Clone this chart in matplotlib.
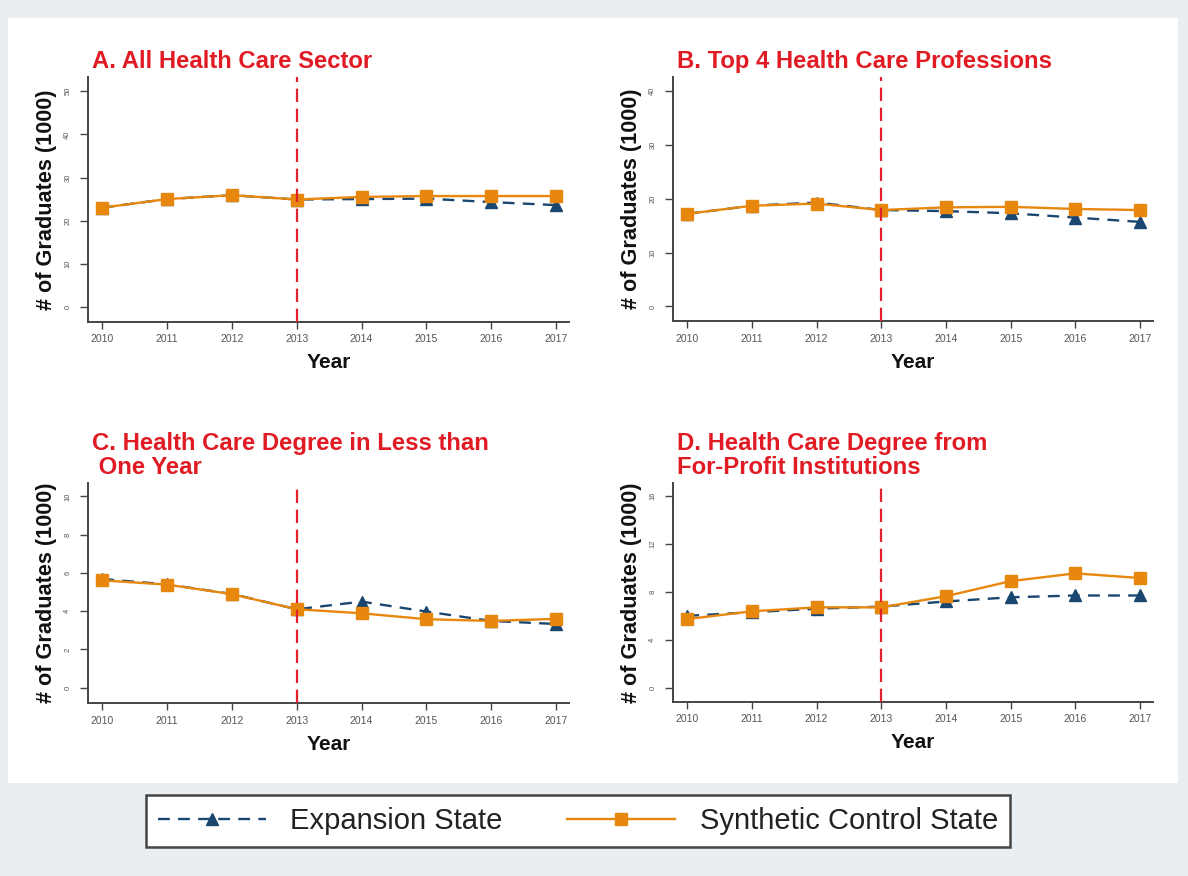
import matplotlib
matplotlib.use("Agg")
import matplotlib.pyplot as plt
from matplotlib.patches import Rectangle

plt.rcParams['font.family'] = ['Liberation Sans', 'DejaVu Sans']

years = [2010, 2011, 2012, 2013, 2014, 2015, 2016, 2017]
treat_year = 2013

titles = ["A. All Health Care Sector",
          "B. Top 4 Health Care Professions",
          "C. Health Care Degree in Less than\n One Year",
          "D. Health Care Degree from\nFor-Profit Institutions"]

a_expansion = [23.0, 25.0, 25.9, 24.9, 25.0, 25.1, 24.3, 23.6]
a_synthetic = [23.0, 25.0, 25.9, 24.9, 25.5, 25.7, 25.7, 25.7]
b_expansion = [17.2, 18.7, 19.3, 17.9, 17.7, 17.3, 16.5, 15.7]
b_synthetic = [17.2, 18.7, 19.1, 17.9, 18.4, 18.5, 18.1, 17.9]
c_expansion = [5.68, 5.40, 4.90, 4.10, 4.50, 3.98, 3.49, 3.33]
c_synthetic = [5.61, 5.39, 4.89, 4.10, 3.89, 3.58, 3.49, 3.60]
d_expansion = [6.00, 6.30, 6.60, 6.77, 7.20, 7.55, 7.70, 7.70]
d_synthetic = [5.73, 6.38, 6.71, 6.71, 7.64, 8.90, 9.55, 9.16]

expansion = [a_expansion, b_expansion, c_expansion, d_expansion]
synthetic = [a_synthetic, b_synthetic, c_synthetic, d_synthetic]
yticks = [list(range(0, 51, 10)), list(range(0, 41, 10)),
          list(range(0, 11, 2)), list(range(0, 17, 4))]
ylims = [(-3.5, 53.3), (-2.7, 42.6), (-0.8, 10.7), (-1.2, 17.1)]

series_names = ["Expansion State", "Synthetic Control State"]
ylabel = "# of Graduates (1000)"
xlabel = "Year"

NAVY = '#1a476f'
ORANGE = '#e8870e'
RED = '#e3202c'
TITLE_RED = '#e01b24'
BG = '#e8eef1'

W, H = 1188, 876
fig = plt.figure(figsize=(W / 100, H / 100), dpi=100, facecolor=BG)

# white plot region
fig.patches.append(Rectangle((8 / W, 1 - 783 / H), (1178 - 8) / W, (783 - 18) / H,
                             transform=fig.transFigure, facecolor='white',
                             edgecolor='none', zorder=-10))

# axes boxes in pixels: left, right, top, bottom
boxes = [(88, 569, 77, 322), (673, 1153, 77, 321),
         (88, 569, 483, 703), (673, 1153, 483, 702)]
title_off = [27, 27, 51, 51]

for i in range(4):
    l, r, t, b = boxes[i]
    ax = fig.add_axes([l / W, 1 - b / H, (r - l) / W, (b - t) / H])
    ax.set_facecolor('white')
    ax.plot(years, expansion[i], color=NAVY, lw=1.7, linestyle=(0, (5, 3.5)),
            marker='^', markersize=8, markerfacecolor=NAVY, markeredgecolor=NAVY,
            zorder=3, label=series_names[0])
    ax.plot(years, synthetic[i], color=ORANGE, lw=1.7, linestyle='-',
            marker='s', markersize=9, markerfacecolor=ORANGE, markeredgecolor=ORANGE,
            zorder=4, label=series_names[1])
    ax.axvline(treat_year, color=RED, lw=1.6, linestyle=(0, (6, 3)), zorder=5)
    ax.set_xlim(2009.78, 2017.2)
    ax.set_ylim(*ylims[i])
    ax.set_xticks(years)
    ax.set_xticklabels([str(y) for y in years])
    ax.set_yticks(yticks[i])
    ax.set_yticklabels([str(v) for v in yticks[i]], rotation=90, va='center')
    for s in ['top', 'right']:
        ax.spines[s].set_visible(False)
    for s in ['left', 'bottom']:
        ax.spines[s].set_color('#444444')
        ax.spines[s].set_linewidth(1.4)
    ax.tick_params(axis='x', length=5, width=1.0, color='#444444', pad=4,
                   labelsize=7.5, labelcolor='#555555')
    ax.tick_params(axis='y', length=6, width=1.0, color='#444444', pad=6,
                   labelsize=5.5, labelcolor='#555555')
    ax.annotate(titles[i], xy=(0, 1), xycoords='axes fraction',
                xytext=(4, title_off[i]), textcoords='offset pixels',
                ha='left', va='top', fontsize=17.2, fontweight='bold',
                color=TITLE_RED, linespacing=1.05)
    ax.annotate(xlabel, xy=(0.5, 0), xycoords='axes fraction',
                xytext=(0, -41), textcoords='offset pixels',
                ha='center', va='center', fontsize=15, fontweight='bold',
                color='#111111')
    ax.annotate(ylabel, xy=(0, 0.5), xycoords='axes fraction',
                xytext=(-41, 0), textcoords='offset pixels',
                ha='center', va='center', rotation=90, fontsize=15.6,
                fontweight='bold', color='#111111')
    if i == 0:
        handles, labels = ax.get_legend_handles_labels()

leg = fig.legend(handles, labels, loc='center left',
                 bbox_to_anchor=(146 / W, 1 - 821 / H), ncol=2,
                 fontsize=21, frameon=True, fancybox=False, framealpha=1.0,
                 handlelength=3.7, handletextpad=0.85, columnspacing=2.2,
                 borderpad=0.4, borderaxespad=0.0)
leg.get_frame().set_edgecolor('#444444')
leg.get_frame().set_linewidth(1.8)
leg.get_frame().set_facecolor('white')
for txt in leg.get_texts():
    txt.set_color('#222222')

fig.savefig('out.png', dpi=100, facecolor=BG)
